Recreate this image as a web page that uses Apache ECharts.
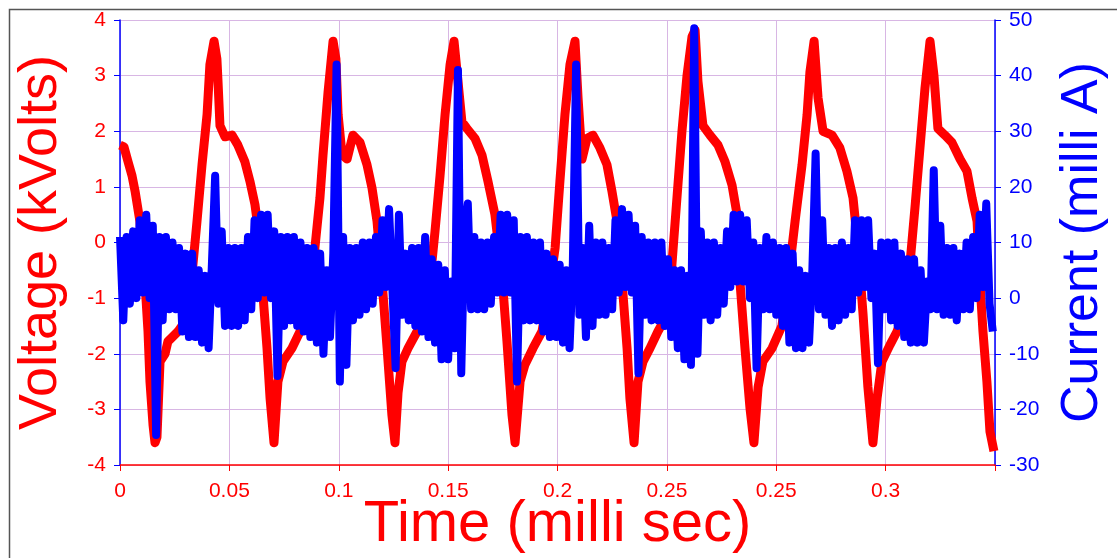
<!DOCTYPE html>
<html>
<head>
<meta charset="utf-8">
<script src="https://cdn.jsdelivr.net/npm/echarts@6/dist/echarts.min.js"></script>
<style>html,body{margin:0;padding:0;background:#fff;}#c{width:1117px;height:558px;}</style>
</head>
<body>
<div id="c"></div>
<script>
// X tick labels as printed on the original chart (one per 0.05 grid step)
const xTickLabels = ['0', '0.05', '0.1', '0.15', '0.2', '0.25', '0.25', '0.3', ''];

// Voltage trace (kV): time (ms) and value
const voltageTime = [0,0.0018,0.0037,0.0055,0.0069,0.0091,0.0114,0.0128,0.0137,0.0151,0.0160,0.0169,0.0183,0.0206,0.0219,0.0265,0.0297,0.0329,0.0352,0.0375,0.0398,0.0411,0.0430,0.0443,0.0448,0.0457,0.0480,0.0512,0.0539,0.0571,0.0594,0.0617,0.0631,0.0649,0.0672,0.0686,0.0704,0.0722,0.0745,0.0786,0.0823,0.0859,0.0891,0.0914,0.0928,0.0951,0.0974,0.0987,0.0997,0.1015,0.1038,0.1065,0.1097,0.1129,0.1152,0.1175,0.1198,0.1221,0.1243,0.1257,0.1271,0.1289,0.1317,0.1358,0.1385,0.1417,0.1440,0.1463,0.1486,0.1509,0.1527,0.1545,0.1563,0.1586,0.1623,0.1655,0.1682,0.1714,0.1746,0.1769,0.1792,0.1806,0.1829,0.1851,0.1888,0.1929,0.1957,0.1989,0.2011,0.2034,0.2057,0.2080,0.2094,0.2112,0.2135,0.2162,0.2194,0.2226,0.2249,0.2272,0.2295,0.2318,0.2331,0.2350,0.2368,0.2391,0.2423,0.2459,0.2501,0.2523,0.2546,0.2569,0.2592,0.2615,0.2629,0.2642,0.2665,0.2697,0.2734,0.2766,0.2798,0.2821,0.2834,0.2857,0.2880,0.2898,0.2917,0.2939,0.2981,0.3026,0.3054,0.3086,0.3118,0.3141,0.3154,0.3173,0.3191,0.3214,0.3255,0.3291,0.3323,0.3351,0.3374,0.3397,0.3419,0.3442,0.3461,0.3483,0.3520,0.3552,0.3579,0.3611,0.3634,0.3657,0.3680,0.3703,0.3721,0.3739,0.3771,0.3803,0.3840,0.3872,0.3895,0.3918,0.3931,0.3945,0.3963,0.3977,0.3995];
const voltageValue = [1.75,1.72,1.45,1.2,0.92,0.38,-0.7,-1.6,-2.5,-3.28,-3.6,-3.5,-2.14,-2.0,-1.78,-1.6,-1.42,-0.58,0.38,1.4,2.3,3.2,3.62,3.3,2.9,2.1,1.9,1.93,1.75,1.45,1.1,0.68,0.26,-0.7,-1.9,-2.8,-3.6,-2.5,-2.14,-1.9,-1.6,-1.3,-0.1,0.8,1.57,2.7,3.62,3.3,2.3,1.58,1.5,1.93,1.8,1.4,0.98,0.38,-0.7,-1.9,-3.1,-3.6,-2.7,-2.14,-1.9,-1.6,-1.42,-0.7,0.2,1.2,2.3,3.2,3.62,2.9,2.17,2.05,1.87,1.57,1.1,0.5,-0.58,-1.78,-3.1,-3.6,-2.5,-2.2,-1.9,-1.6,-1.0,-0.1,1.1,2.3,3.2,3.62,2.6,1.5,1.87,1.93,1.7,1.4,0.92,0.38,-0.7,-1.9,-2.8,-3.6,-2.5,-2.14,-1.9,-1.6,-1.3,-0.4,0.8,2.0,3.0,3.7,3.82,2.9,2.1,1.93,1.75,1.45,1.03,0.5,-0.7,-1.9,-2.98,-3.6,-2.6,-2.14,-1.9,-1.5,-0.7,0.38,1.4,2.3,3.07,3.62,2.6,2.0,1.93,1.7,1.28,0.8,-0.1,-1.3,-2.6,-3.6,-2.8,-2.14,-1.84,-1.6,-1.3,-0.4,0.62,1.7,2.78,3.62,3.0,2.05,1.93,1.8,1.5,1.28,0.8,0.38,-0.7,-1.6,-2.5,-3.4,-3.75];

const currentStep = 0.0015;
const currentValue = [
 11,-4,11,-1,12,0,14,1,15,0,
 13,-24.6,11,-4,11,-2,10,-2,9,-6,
 8,-7,8,-7,5,-8,4,-9,6,22,
 -1,12,-5,9,-5,9,-5,9,-4,11,
 -2,14,0,15,1,15,0,12,-14,11,
 -5,11,-4,11,-5,10,-6,9,-7,9,
 -8,8,-10,5,-7,8,42,-15,11,-12,
 9,-4,9,-3,10,-2,10,-1,11,1,
 14,2,16,2,-12.6,15,-3,8,-4,9,
 -5,9,-6,11,-7,7,-8,6,-11,5,
 -11,3,-9,41,-13.5,12,17,-2,11,-2,
 10,-2,10,-1,11,1,15,1,15,1,
 14,-15,11,-4,11,-4,10,-4,10,-6,
 8,-7,7,-7,6,-8,5,-9,6,42,
 -3,9,-7,13,-5,10,-3,10,-3,9,
 -2,14,1,16,2,15,1,13,-13.5,11,
 -3,10,-4,10,-4,10,-5,7,-7,5,
 -9,5,-11,4,-12,48.5,-10,12,-3,10,
 -4,10,-3,9,-1,12,2,15,3,15,
 3,14,0,10,-12.6,9,-2,11,-2,10,
 -3,9,-5,9,-8,8,-9,5,-9,4,
 -8,5,26,-2,14,-3,9,-5,9,-4,
 10,-3,9,-2,14,1,14,2,14,0,
 8,-11.7,10,-2,10,-4,10,-5,8,-7,
 7,-8,7,-8,5,-8,3,-2,23,-2,
 13,-3,9,-3,9,-4,8,-2,10,-2,
 11,0,15,2,17,-1,-6
];

const voltageData = voltageTime.map((t, i) => [t, voltageValue[i]]);
const currentData = currentValue.map((v, i) => [+(i * currentStep).toFixed(4), v]);

const FONT = 'Liberation Sans, Arial, sans-serif';
const RED = '#ff0000';
const BLUE = '#0000ff';
const GRID = '#d8b6e4';

const chart = echarts.init(document.getElementById('c'), null, {renderer: 'canvas'});
chart.setOption({
  animation: false,
  backgroundColor: '#ffffff',
  graphic: [{
    type: 'rect', left: 7, top: 7, silent: true, z: 0,
    shape: {width: 1300, height: 700},
    style: {fill: 'none', stroke: '#555', lineWidth: 1.5}
  }],
  grid: {left: 120, right: 122, top: 20, bottom: 93, containLabel: false, outerBoundsMode: 'none'},
  xAxis: {
    type: 'value', min: 0, max: 0.4, interval: 0.05,
    name: 'Time (milli sec)', nameLocation: 'middle', nameGap: 31, nameMoveOverlap: false,
    nameTextStyle: {color: RED, fontSize: 58, fontFamily: FONT},
    axisLine: {onZero: false, lineStyle: {color: RED, width: 1.5}},
    axisTick: {show: true, inside: false, length: 6, lineStyle: {color: RED}},
    axisLabel: {color: RED, fontSize: 21, fontFamily: FONT, margin: 16,
      formatter: (v) => xTickLabels[Math.round(v / 0.05)] || ''},
    splitLine: {show: true, lineStyle: {color: GRID, width: 1}}
  },
  yAxis: [{
    type: 'value', min: -4, max: 4, interval: 1, position: 'left',
    name: 'Voltage (kVolts)', nameLocation: 'middle', nameGap: 52, nameRotate: 90, nameMoveOverlap: false,
    nameTextStyle: {color: RED, fontSize: 54, fontFamily: FONT},
    axisLine: {show: true, onZero: false, lineStyle: {color: BLUE, width: 1.5}},
    axisTick: {show: true, length: 6, lineStyle: {color: BLUE}},
    axisLabel: {color: RED, fontSize: 21, fontFamily: FONT, margin: 14},
    splitLine: {show: true, lineStyle: {color: GRID, width: 1}}
  }, {
    type: 'value', min: -30, max: 50, interval: 10, position: 'right',
    name: 'Current (milli A)', nameLocation: 'middle', nameGap: 62, nameRotate: 90, nameMoveOverlap: false,
    nameTextStyle: {color: BLUE, fontSize: 52, fontFamily: FONT},
    axisLine: {show: true, onZero: false, lineStyle: {color: BLUE, width: 1.5}},
    axisTick: {show: true, length: 6, lineStyle: {color: BLUE}},
    axisLabel: {color: BLUE, fontSize: 21, fontFamily: FONT, margin: 14},
    splitLine: {show: false}
  }],
  series: [{
    name: 'Voltage', type: 'line', yAxisIndex: 0, data: voltageData,
    showSymbol: false, clip: true,
    lineStyle: {color: RED, width: 9, join: 'round', cap: 'butt'}, z: 2
  }, {
    name: 'Current', type: 'line', yAxisIndex: 1, data: currentData,
    showSymbol: false, clip: true,
    lineStyle: {color: BLUE, width: 8, join: 'round', cap: 'butt'}, z: 3
  }]
});
</script>
</body>
</html>
